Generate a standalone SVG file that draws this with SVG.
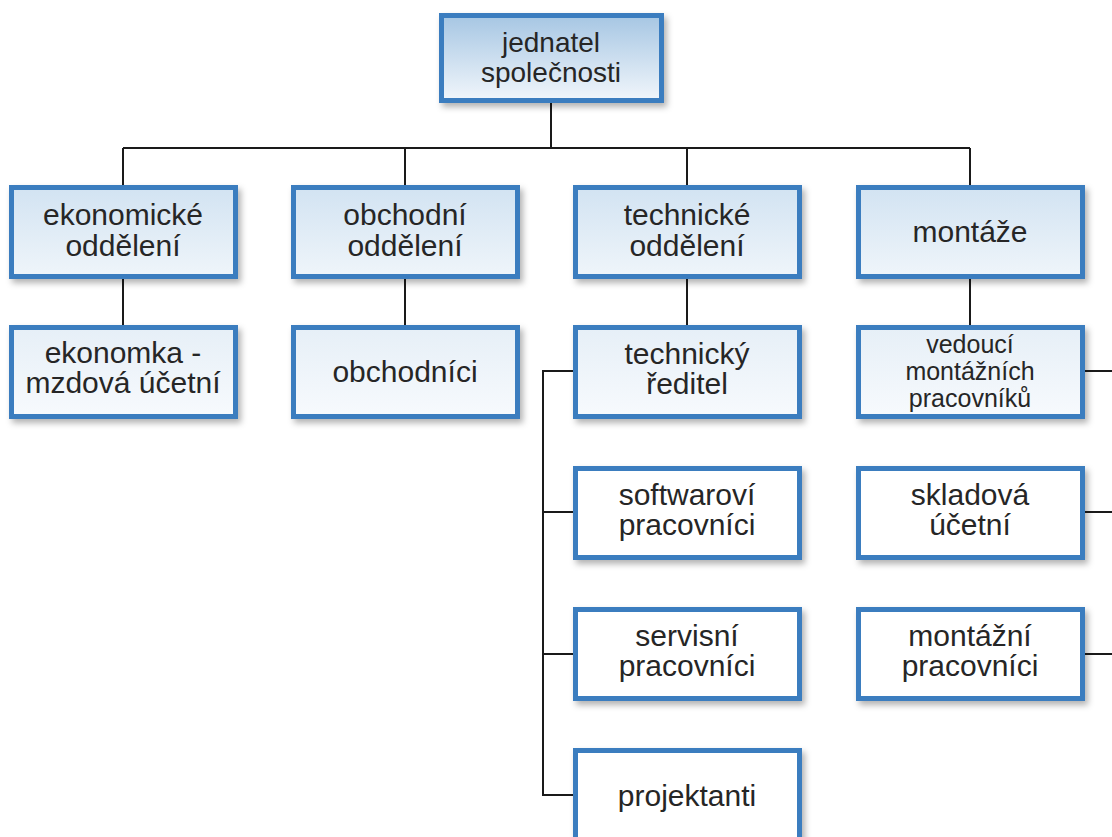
<svg xmlns="http://www.w3.org/2000/svg" width="1112" height="837" viewBox="0 0 1112 837">
<defs>
<linearGradient id="gTop" x1="0" y1="0" x2="0" y2="1">
<stop offset="0" stop-color="#a6c6e3"/><stop offset="1" stop-color="#f1f6fb"/>
</linearGradient>
<linearGradient id="gMid" x1="0" y1="0" x2="0" y2="1">
<stop offset="0" stop-color="#d2e3f2"/><stop offset="1" stop-color="#eff5fa"/>
</linearGradient>
<linearGradient id="gLow" x1="0" y1="0" x2="0" y2="1">
<stop offset="0" stop-color="#e6eff7"/><stop offset="1" stop-color="#f7fafd"/>
</linearGradient>
<filter id="sh" x="-10%" y="-10%" width="125%" height="130%">
<feDropShadow dx="3" dy="4" stdDeviation="3" flood-color="#000" flood-opacity="0.3"/>
</filter>
</defs>
<style>
.b{stroke:#3a7dbf;stroke-width:5;filter:url(#sh)}
.t{font-family:"Liberation Sans",Arial,sans-serif;font-size:30px;fill:#262626;text-anchor:middle}
.m{font-size:28px}
.s{font-size:25px}
.c{fill:none;stroke:#1a1a1a;stroke-width:2}
</style>
<rect width="1112" height="837" fill="#fff"/>
<g id="connectors">
<path class="c" d="M551 102V148M123 148H970M123 148V185M405 148V185M687 148V185M970 148V185"/>
<path class="c" d="M123 278V325M405 278V325M687 278V325M970 278V325"/>
<path class="c" d="M573 371H543V795H573M543 512H573M543 654H573"/>
<path class="c" d="M1083 371H1112M1083 512H1112M1083 654H1112"/>
</g>
<g id="n-jednatel"><rect class="b" x="441.5" y="15.5" width="220" height="85" fill="url(#gTop)"/>
<text class="t m" x="551" y="52">jednatel</text><text class="t m" x="551" y="82">společnosti</text></g>
<g id="n-ekonomicke"><rect class="b" x="11.5" y="187.5" width="224" height="89" fill="url(#gMid)"/>
<text class="t" x="123" y="225">ekonomické</text><text class="t" x="123" y="256">oddělení</text></g>
<g id="n-obchodni"><rect class="b" x="293.5" y="187.5" width="224" height="89" fill="url(#gMid)"/>
<text class="t" x="405" y="225">obchodní</text><text class="t" x="405" y="256">oddělení</text></g>
<g id="n-technicke"><rect class="b" x="575.5" y="187.5" width="224" height="89" fill="url(#gMid)"/>
<text class="t" x="687" y="225">technické</text><text class="t" x="687" y="256">oddělení</text></g>
<g id="n-montaze"><rect class="b" x="858.5" y="187.5" width="224" height="89" fill="url(#gMid)"/>
<text class="t" x="970" y="242">montáže</text></g>
<g id="n-ekonomka"><rect class="b" x="11.5" y="327.5" width="224" height="89" fill="url(#gLow)"/>
<text class="t" x="123" y="363">ekonomka -</text><text class="t" x="123" y="393">mzdová účetní</text></g>
<g id="n-obchodnici"><rect class="b" x="293.5" y="327.5" width="224" height="89" fill="url(#gLow)"/>
<text class="t" x="405" y="382">obchodníci</text></g>
<g id="n-technicky-reditel"><rect class="b" x="575.5" y="327.5" width="224" height="89" fill="url(#gLow)"/>
<text class="t" x="687" y="364">technický</text><text class="t" x="687" y="394">ředitel</text></g>
<g id="n-vedouci"><rect class="b" x="858.5" y="327.5" width="224" height="89" fill="url(#gLow)"/>
<text class="t s" x="970" y="353">vedoucí</text><text class="t s" x="970" y="380">montážních</text><text class="t s" x="970" y="407">pracovníků</text></g>
<g id="n-softwarovi"><rect class="b" x="575.5" y="468.5" width="224" height="89" fill="#fff"/>
<text class="t" x="687" y="505">softwaroví</text><text class="t" x="687" y="535">pracovníci</text></g>
<g id="n-skladova"><rect class="b" x="858.5" y="468.5" width="224" height="89" fill="#fff"/>
<text class="t" x="970" y="505">skladová</text><text class="t" x="970" y="535">účetní</text></g>
<g id="n-servisni"><rect class="b" x="575.5" y="609.5" width="224" height="89" fill="#fff"/>
<text class="t" x="687" y="646">servisní</text><text class="t" x="687" y="676">pracovníci</text></g>
<g id="n-montazni"><rect class="b" x="858.5" y="609.5" width="224" height="89" fill="#fff"/>
<text class="t" x="970" y="646">montážní</text><text class="t" x="970" y="676">pracovníci</text></g>
<g id="n-projektanti"><rect class="b" x="575.5" y="750.5" width="224" height="89" fill="#fff"/>
<text class="t" x="687" y="806">projektanti</text></g>
</svg>
